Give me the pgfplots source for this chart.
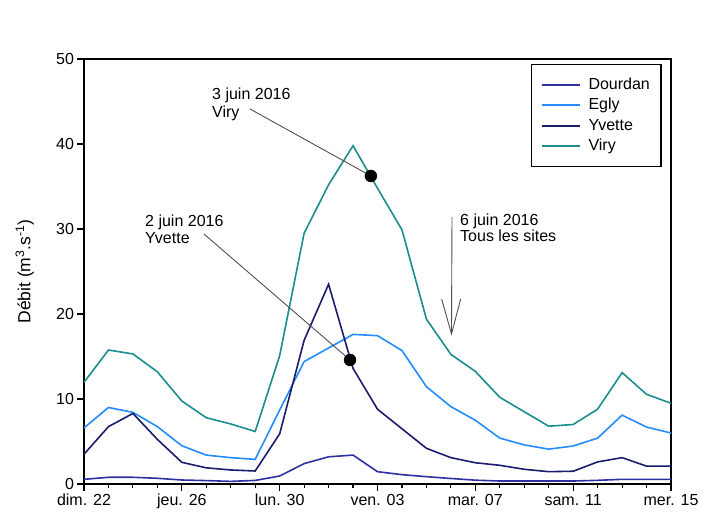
\documentclass[border=0pt]{standalone}
\usepackage{fontspec}
\setmainfont{Liberation Sans}
\usepackage{pgfplots}
\pgfplotsset{compat=1.18}
\definecolor{cDourdan}{RGB}{48,48,165}
\definecolor{cEgly}{RGB}{36,140,255}
\definecolor{cYvette}{RGB}{28,28,108}
\definecolor{cViry}{RGB}{26,142,140}
\definecolor{cAnn}{RGB}{80,80,80}
\begin{document}
\begin{tikzpicture}[x=1pt,y=1pt]
\path[use as bounding box] (0,0) rectangle (713,531);
\begin{axis}[
  at={(84pt,47pt)}, anchor=south west,
  scale only axis, width=587pt, height=425pt,
  xmin=0, xmax=24, ymin=0, ymax=50,
  xtick={0,4,...,24},
  xticklabels={dim. 22, jeu. 26, lun. 30, ven. 03, mar. 07, sam. 11, mer. 15},
  minor x tick num=3,
  ytick={0,10,...,50},
  tick align=outside, major tick length=6.5pt, minor tick length=4pt,
  xtick pos=bottom, ytick pos=left,
  axis line style={line width=1.4pt},
  every tick/.style={black, line width=1.1pt},
  tick label style={font=\fontsize{16}{19}\selectfont},
  /pgf/number format/assume math mode=true,
  ylabel={Débit (m\textsuperscript{3}.s\textsuperscript{-1})},
  ylabel style={font=\fontsize{17.5}{20}\selectfont, at={(axis description cs:-0.101,0.5)}, anchor=center},
  legend cell align=left,
  legend image code/.code={\draw[#1, line width=2pt] (0pt,0.5pt) -- (38pt,0.5pt);},
  legend style={at={(0.984,0.988)}, anchor=north east, draw=black, line width=1.4pt,
    font=\fontsize{16}{19}\selectfont, inner xsep=9pt, inner ysep=10pt, column sep=6pt, row sep=0pt,
    nodes={inner sep=2pt, text height=12.5pt, text depth=4pt}},
]
\addplot[cDourdan, line width=1.6pt] coordinates {
(0,0.55)(1,0.79)(2,0.79)(3,0.67)(4,0.47)(5,0.40)(6,0.31)(7,0.42)(8,0.94)(9,2.4)(10,3.2)(11,3.4)(12,1.45)
(13,1.1)(14,0.86)(15,0.65)(16,0.45)(17,0.35)(18,0.35)(19,0.35)(20,0.35)(21,0.43)(22,0.55)(23,0.55)(24,0.55)};
\addlegendentry{Dourdan}
\addplot[cEgly, line width=1.6pt] coordinates {
(0,6.6)(1,9.0)(2,8.43)(3,6.75)(4,4.5)(5,3.4)(6,3.1)(7,2.9)(8,8.7)(9,14.4)(10,16.0)(11,17.6)(12,17.45)
(13,15.7)(14,11.45)(15,9.1)(16,7.5)(17,5.4)(18,4.6)(19,4.1)(20,4.47)(21,5.4)(22,8.1)(23,6.7)(24,6.0)};
\addlegendentry{Egly}
\addplot[cYvette, line width=1.6pt] coordinates {
(0,3.5)(1,6.75)(2,8.3)(3,5.25)(4,2.55)(5,1.9)(6,1.65)(7,1.53)(8,5.9)(9,16.9)(10,23.5)(11,13.6)(12,8.8)
(13,6.5)(14,4.2)(15,3.1)(16,2.5)(17,2.2)(18,1.73)(19,1.45)(20,1.5)(21,2.6)(22,3.1)(23,2.1)(24,2.1)};
\addlegendentry{Yvette}
\addplot[cViry, line width=1.6pt] coordinates {
(0,11.96)(1,15.76)(2,15.3)(3,13.2)(4,9.76)(5,7.8)(6,7.06)(7,6.18)(8,15.1)(9,29.5)(10,35.2)(11,39.8)(12,34.8)
(13,29.9)(14,19.4)(15,15.25)(16,13.25)(17,10.2)(18,8.5)(19,6.8)(20,7.0)(21,8.8)(22,13.1)(23,10.55)(24,9.5)};
\addlegendentry{Viry}
% annotations
\draw[cAnn, line width=0.9pt] (axis cs:6.787,44.12) -- (axis cs:11.73,36.24);
\draw[cAnn, line width=0.9pt] (axis cs:4.906,29.41) -- (axis cs:10.876,14.59);
\draw[cAnn, line width=0.9pt] (axis cs:15.046,31.41) -- (axis cs:15.025,17.65);
\draw[cAnn, line width=0.9pt] (axis cs:14.624,21.76) -- (axis cs:15.025,17.65) -- (axis cs:15.401,21.76);
\addplot[only marks, mark=*, mark size=6pt, black, forget plot] coordinates {(11.73,36.24)(10.876,14.59)};
\node[anchor=base west, font=\fontsize{16}{19}\selectfont, inner sep=0pt] at (axis cs:5.233,45.18) {3 juin 2016};
\node[anchor=base west, font=\fontsize{16}{19}\selectfont, inner sep=0pt] at (axis cs:5.233,43.09) {Viry};
\node[anchor=base west, font=\fontsize{16}{19}\selectfont, inner sep=0pt] at (axis cs:2.494,30.35) {2 juin 2016};
\node[anchor=base west, font=\fontsize{16}{19}\selectfont, inner sep=0pt] at (axis cs:2.494,28.27) {Yvette};
\node[anchor=base west, font=\fontsize{16}{19}\selectfont, inner sep=0pt] at (axis cs:15.373,30.47) {6 juin 2016};
\node[anchor=base west, font=\fontsize{16}{19}\selectfont, inner sep=0pt] at (axis cs:15.373,28.5) {Tous les sites};
\end{axis}
\end{tikzpicture}
\end{document}
